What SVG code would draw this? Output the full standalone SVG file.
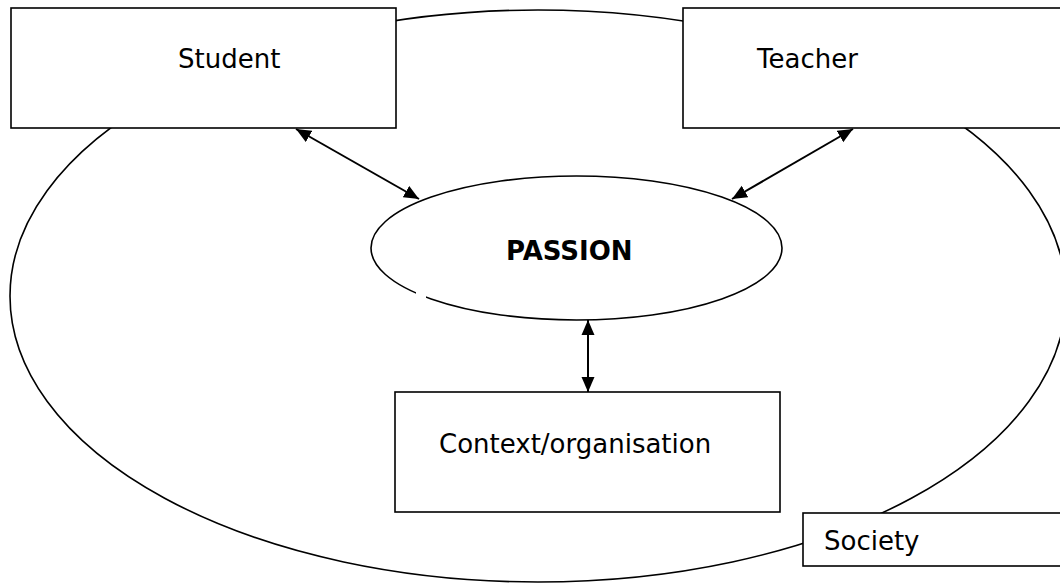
<svg xmlns="http://www.w3.org/2000/svg" width="1060" height="584" viewBox="0 0 1060 584">
<style>
.shape{fill:#fff;stroke:#000;stroke-width:1.6}
.lbl{font-family:"DejaVu Sans","Verdana",sans-serif;font-size:26px;fill:#000}
.bold{font-weight:bold}
.conn{stroke:#000;stroke-width:2;fill:none;marker-start:url(#ah);marker-end:url(#ah)}
</style>
<defs>
<marker id="ah" viewBox="0 0 15 14" refX="15" refY="7" markerWidth="15" markerHeight="14" markerUnits="userSpaceOnUse" orient="auto-start-reverse">
<path d="M0,0.5 L15,7 L0,13.5 z" fill="#000"/>
</marker>
</defs>
<g id="society-ellipse">
<ellipse class="shape" cx="538" cy="296" rx="528" ry="286"/>
</g>
<g id="student">
<rect class="shape" x="11" y="8" width="385" height="120"/>
<text class="lbl" x="178" y="68">Student</text>
</g>
<g id="teacher">
<rect class="shape" x="683" y="8" width="390" height="120"/>
<text class="lbl" x="757" y="68">Teacher</text>
</g>
<g id="passion">
<ellipse class="shape" cx="576.5" cy="248" rx="205.5" ry="72"/>
<rect x="416" y="290" width="10" height="9" fill="#fff"/>
<text class="lbl bold" x="506" y="260">PASSION</text>
</g>
<g id="context">
<rect class="shape" x="395" y="392" width="385" height="120"/>
<text class="lbl" x="439" y="453">Context/organisation</text>
</g>
<g id="society">
<rect class="shape" x="803" y="513" width="270" height="53"/>
<text class="lbl" x="824" y="550">Society</text>
</g>
<g id="connectors">
<line class="conn" x1="296" y1="129" x2="419" y2="199"/>
<line class="conn" x1="853" y1="129" x2="732" y2="199"/>
<line class="conn" x1="588" y1="320" x2="588" y2="392"/>
</g>
</svg>
